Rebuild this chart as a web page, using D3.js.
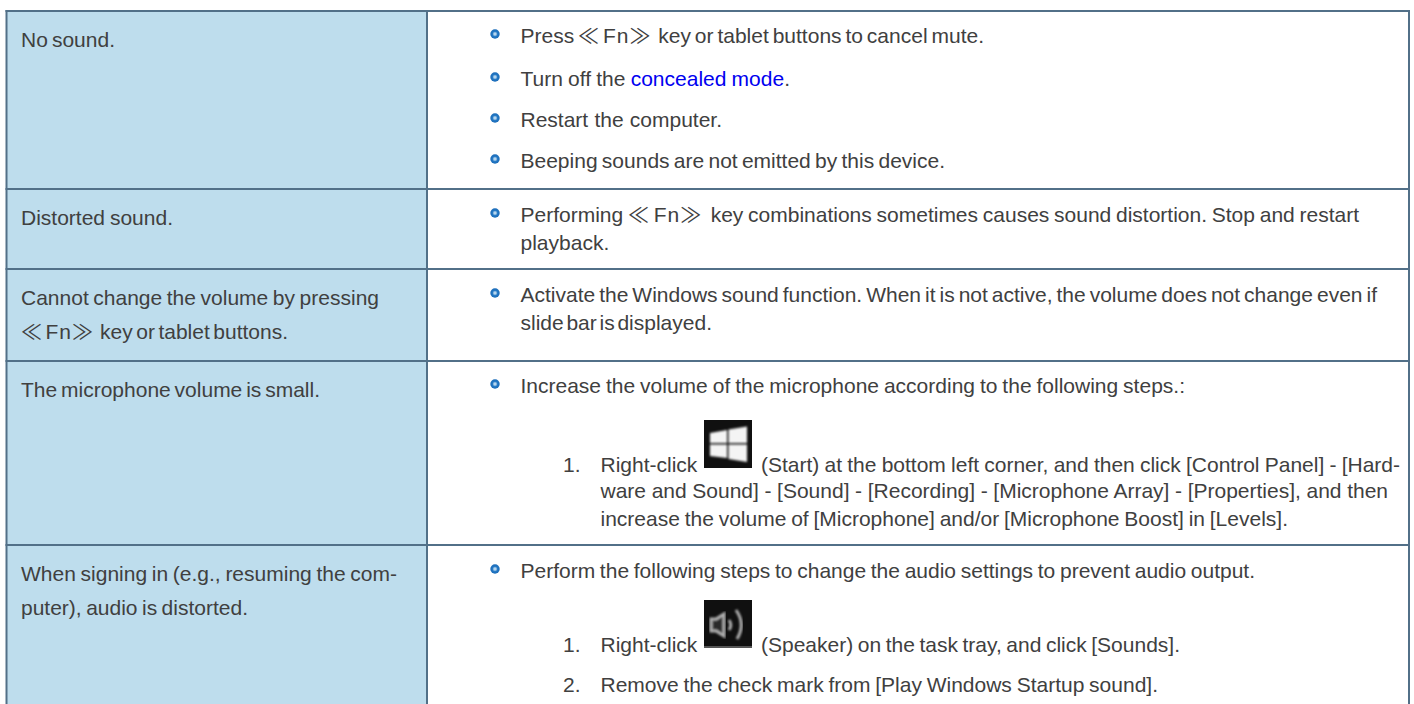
<!DOCTYPE html>
<html>
<head>
<meta charset="utf-8">
<script src="https://cdn.jsdelivr.net/npm/d3@7"></script>
<style>
html, body { margin: 0; padding: 0; background: #fff; overflow: hidden; }
svg { display: block; }
text { font-family: "Liberation Sans", "Noto Sans CJK JP", sans-serif; font-size: 21px; fill: #404040; word-spacing: -1.5px; white-space: pre; }
</style>
</head>
<body>
<svg></svg>
<script>
var rowNames = ["sound", "distorted", "volume", "microphone", "signin"];

var symptomText = [
    ["No sound."],
    ["Distorted sound."],
    ["Cannot change the volume by pressing", "≪ Fn≫  key or tablet buttons."],
    ["The microphone volume is small."],
    ["When signing in (e.g., resuming the com-", "puter), audio is distorted."]
];

// | marks the blue part of a line
var fixKind = ["bullet", "bullet", "bullet", "bullet", "bullet", "plain", "bullet", "plain", "bullet", "step", "cont", "cont", "bullet", "step", "step"];
var fixNumber = ["", "", "", "", "", "", "", "", "", "1.", "", "", "", "1.", "2."];
var fixText = [
    "Press ≪ Fn≫  key or tablet buttons to cancel mute.",
    "Turn off the |concealed mode|.",
    "Restart the computer.",
    "Beeping sounds are not emitted by this device.",
    "Performing ≪ Fn≫  key combinations sometimes causes sound distortion. Stop and restart",
    "playback.",
    "Activate the Windows sound function. When it is not active, the volume does not change even if",
    "slide bar is displayed.",
    "Increase the volume of the microphone according to the following steps.:",
    "Right-click",
    "ware and Sound] - [Sound] - [Recording] - [Microphone Array] - [Properties], and then",
    "increase the volume of [Microphone] and/or [Microphone Boost] in [Levels].",
    "Perform the following steps to change the audio settings to prevent audio output.",
    "Right-click",
    "Remove the check mark from [Play Windows Startup sound]."
];
var afterIcon = {
    9: "(Start) at the bottom left corner, and then click [Control Panel] - [Hard-",
    13: "(Speaker) on the task tray, and click [Sounds]."
};

// layout
var width = 1414, height = 704;
var rowTops = [11, 189, 269, 361, 545, 720];
var symptomBase = [[47], [225], [305, 339], [397], [581, 615]];
var symptomEnd = [[115], [173], [379, 288], [320], [397, 248]];
var fixBase = [43, 86, 127, 168, 222, 250, 302, 330, 393, 472, 498, 526, 578, 652, 692];
var fixEnd = [984, 790, 722, 945, 1359, 607, 1377, 712, 1185, 696, 1388, 1288, 1255, 696, 1158];
var afterEnd = { 9: 1400, 13: 1180 };
var borderColor = "#527088", cellFill = "#bedded", linkColor = "#0000f0";

var x = d3.scaleOrdinal().domain(["left", "divider", "right", "symptom", "bullet", "fix", "number", "step", "icon", "after"])
    .range([6.5, 427, 1409, 21, 495, 520.5, 563, 600.5, 704, 761]);
var rowY = d3.scaleOrdinal().domain(rowNames).range(rowTops);

var svg = d3.select("svg").attr("width", width).attr("height", height);

var defs = svg.append("defs");
defs.append("filter").attr("id", "soft").append("feGaussianBlur").attr("stdDeviation", 1);
var bulletGrad = defs.append("radialGradient").attr("id", "dot");
bulletGrad.append("stop").attr("offset", "22%").attr("stop-color", "#b7d6ee");
bulletGrad.append("stop").attr("offset", "55%").attr("stop-color", "#2378c4");
bulletGrad.append("stop").attr("offset", "100%").attr("stop-color", "#1a6bb8");

// cells
svg.selectAll("rect.cell")
    .data(rowNames)
    .enter()
    .append("rect")
    .attr("class", "cell")
    .attr("x", x("left"))
    .attr("y", function(d) { return rowY(d); })
    .attr("width", x("divider") - x("left"))
    .attr("height", function(d, i) { return rowTops[i + 1] - rowTops[i]; })
    .attr("fill", cellFill);

// grid lines
svg.selectAll("line.row")
    .data(rowNames)
    .enter()
    .append("line")
    .attr("class", "row")
    .attr("x1", x("left") - 1)
    .attr("x2", x("right") + 1)
    .attr("y1", function(d) { return rowY(d); })
    .attr("y2", function(d) { return rowY(d); })
    .attr("stroke", borderColor)
    .attr("stroke-width", 2);

svg.selectAll("line.col")
    .data(["left", "divider", "right"])
    .enter()
    .append("line")
    .attr("class", "col")
    .attr("x1", function(d) { return x(d); })
    .attr("x2", function(d) { return x(d); })
    .attr("y1", rowTops[0] - 1)
    .attr("y2", height)
    .attr("stroke", borderColor)
    .attr("stroke-width", 2);

// the key name is set a bit wider than the text round it
function writeLine(t, s) {
    s.split(/(Fn)/).forEach(function(part) {
        t.append("tspan")
            .style("letter-spacing", part == "Fn" ? "1px" : null)
            .text(part);
    });
}

// word spacing is tuned per line so that the line stops where it does in the picture
function fitLine(t, startX, endX, s) {
    var spaces = s.split(" ").length - 1;
    if (!spaces) return;
    var now = t.node().getComputedTextLength();
    t.style("word-spacing", (-1.5 + (endX - startX - now) / spaces) + "px");
}

// left column
symptomText.forEach(function(lines, r) {
    lines.forEach(function(d, i) {
        var t = svg.append("text")
            .attr("x", x("symptom"))
            .attr("y", symptomBase[r][i]);
        writeLine(t, d);
        fitLine(t, x("symptom"), symptomEnd[r][i], d);
    });
});

// right column
var lineX = { bullet: "fix", plain: "fix", step: "step", cont: "step" };

fixText.forEach(function(d, i) {
    var t = svg.append("text")
        .attr("x", x(lineX[fixKind[i]]))
        .attr("y", fixBase[i]);
    d.split("|").forEach(function(part, p) {
        if (p == 1) {
            t.append("tspan").style("fill", linkColor).text(part);
        } else {
            writeLine(t, part);
        }
    });
    fitLine(t, x(lineX[fixKind[i]]), fixEnd[i], d);
    if (fixKind[i] == "bullet") {
        svg.append("circle")
            .attr("cx", x("bullet"))
            .attr("cy", fixBase[i] - 9)
            .attr("r", 4.7)
            .attr("fill", "url(#dot)");
    }
    if (fixNumber[i]) {
        svg.append("text")
            .attr("x", x("number"))
            .attr("y", fixBase[i])
            .text(fixNumber[i]);
    }
    if (afterIcon[i]) {
        var a = svg.append("text")
            .attr("x", x("after"))
            .attr("y", fixBase[i])
            .text(afterIcon[i]);
        fitLine(a, x("after"), afterEnd[i], afterIcon[i]);
    }
});

// start icon
var startIcon = svg.append("g").attr("transform", "translate(" + x("icon") + ",420)");
startIcon.append("rect").attr("width", 48).attr("height", 48).attr("fill", "#101010");
startIcon.append("path")
    .attr("d", "M6 13 L23 10 V23 H6 Z M24.5 9.5 L43 6.5 V23 H24.5 Z M6 24.5 H23 V38 L6 36 Z M24.5 24.5 H43 V42 L24.5 39 Z")
    .attr("fill", "#f4f4f4")
    .attr("filter", "url(#soft)");

// speaker icon
var speakerIcon = svg.append("g").attr("transform", "translate(" + x("icon") + ",600)");
speakerIcon.append("rect").attr("width", 48).attr("height", 48).attr("fill", "#101010");
speakerIcon.append("rect").attr("y", 46).attr("width", 48).attr("height", 2).attr("fill", "#555");
speakerIcon.append("path")
    .attr("d", "M7 19 H12 L20 14 V36 L12 31 H7 Z")
    .attr("fill", "#2a2a2a")
    .attr("stroke", "#b0b0b0")
    .attr("stroke-width", 3)
    .attr("filter", "url(#soft)");
speakerIcon.append("path")
    .attr("d", "M25 20 Q28.5 25 25 30 M32 10 Q42 24 33 39")
    .attr("fill", "none")
    .attr("stroke", "#b0b0b0")
    .attr("stroke-width", 3)
    .attr("filter", "url(#soft)");
</script>
</body>
</html>
